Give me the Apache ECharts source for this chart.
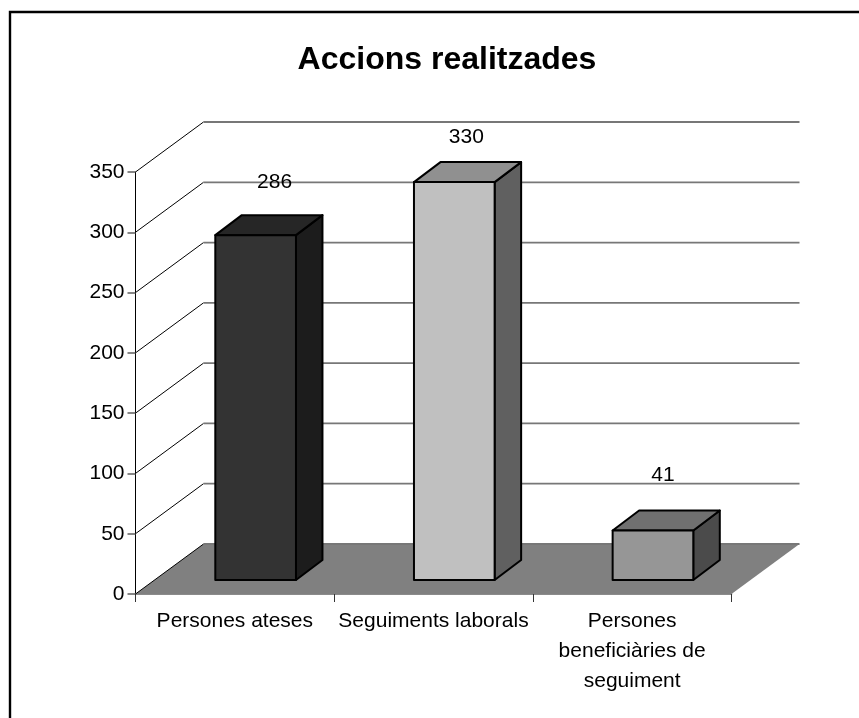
<!DOCTYPE html>
<html>
<head>
<meta charset="utf-8">
<style>
  html, body { margin:0; padding:0; background:#fff; }
  #chart { width:859px; height:718px; }
</style>
<script src="https://cdn.jsdelivr.net/npm/echarts@6/dist/echarts.min.js"></script>
</head>
<body>
<div id="chart"></div>
<script>
const categories = ['Persones ateses', 'Seguiments laborals', 'Persones\nbeneficiàries de\nseguiment'];
const values = [286, 330, 41];
const valueTicks = [0, 50, 100, 150, 200, 250, 300, 350];

const fontName = '"Liberation Sans", Arial, sans-serif';
// front, top, side
const barShades = [
    ['#333333', '#262626', '#1c1c1c'],
    ['#c0c0c0', '#909090', '#606060'],
    ['#969696', '#707070', '#4b4b4b']
];
// the data labels do not sit at the same place over each bar in the original
const labelShift = [[19, -52.5], [12, -45], [10, -55]];

const wallX = 68, wallY = 50;
const barInX = 20.8, barInY = 14;
const barDepthX = 26.5, barDepthY = 20;
const barWidthRatio = 0.406;

function renderFloor(params, api) {
    const box = params.coordSys;
    const y0 = api.coord([0, 0])[1];
    return {
        type:'polygon',
        shape:{ points:[
            [box.x, y0],
            [box.x + box.width, y0],
            [box.x + box.width + wallX, y0 - wallY],
            [box.x + wallX, y0 - wallY]
        ]},
        style:{ fill:'#808080' }
    };
}

function renderWall(params, api) {
    const box = params.coordSys;
    const y = api.coord([0, api.value(1)])[1];
    return {
        type:'group',
        children:[
            {
                type:'line',
                shape:{ x1:box.x, y1:y, x2:box.x + wallX, y2:y - wallY },
                style:{ stroke:'#000', lineWidth:1 }
            },
            {
                type:'line',
                shape:{ x1:box.x + wallX, y1:y - wallY, x2:box.x + box.width + wallX, y2:y - wallY },
                style:{ stroke:'#777', lineWidth:1.8 }
            }
        ]
    };
}

function renderBar(params, api) {
    const i = params.dataIndex;
    const top = api.coord([api.value(0), api.value(1)]);
    const bottom = api.coord([api.value(0), 0]);
    const w = api.size([1, 0])[0] * barWidthRatio;
    const x1 = top[0] + barInX - w / 2;
    const x2 = x1 + w;
    const yt = top[1] - barInY;
    const yb = bottom[1] - barInY;
    const line = { stroke:'#000', lineWidth:2, lineJoin:'round' };
    return {
        type:'group',
        children:[
            {
                type:'polygon',
                shape:{ points:[[x2, yt], [x2 + barDepthX, yt - barDepthY], [x2 + barDepthX, yb - barDepthY], [x2, yb]] },
                style:Object.assign({ fill:barShades[i][2] }, line)
            },
            {
                type:'polygon',
                shape:{ points:[[x1, yt], [x1 + barDepthX, yt - barDepthY], [x2 + barDepthX, yt - barDepthY], [x2, yt]] },
                style:Object.assign({ fill:barShades[i][1] }, line)
            },
            {
                type:'rect',
                shape:{ x:x1, y:yt, width:w, height:yb - yt },
                style:Object.assign({ fill:barShades[i][0] }, line)
            },
            {
                type:'text',
                style:{
                    x:(x1 + x2) / 2 + labelShift[i][0],
                    y:yt + labelShift[i][1],
                    text:String(values[i]),
                    align:'center',
                    verticalAlign:'middle',
                    fill:'#000',
                    font:'21px ' + fontName
                }
            }
        ]
    };
}

const myChart = echarts.init(document.getElementById('chart'), null, { renderer:'canvas' });
myChart.setOption({
    animation:false,
    backgroundColor:'#fff',
    title:{
        text:'Accions realitzades',
        left:442,
        top:39,
        textAlign:'center',
        textStyle:{ fontFamily:fontName, fontSize:32, fontWeight:'bold', color:'#000' }
    },
    grid:{ left:135.5, right:127.5, top:172, bottom:124 },
    xAxis:{
        type:'category',
        data:categories,
        axisLine:{ lineStyle:{ color:'#666', width:1.6 } },
        axisTick:{ show:true, length:8, alignWithLabel:false, lineStyle:{ color:'#333', width:1 } },
        axisLabel:{
            interval:0,
            margin:12,
            color:'#000',
            fontFamily:fontName,
            fontSize:21,
            lineHeight:30
        },
        splitLine:{ show:false }
    },
    yAxis:{
        type:'value',
        min:0,
        max:350,
        interval:50,
        axisLine:{ show:true, lineStyle:{ color:'#000', width:1 } },
        axisTick:{ show:true, length:8, lineStyle:{ color:'#666', width:1.6 } },
        axisLabel:{ margin:11, color:'#000', fontFamily:fontName, fontSize:21 },
        splitLine:{ show:false }
    },
    series:[
        {
            type:'custom',
            name:'floor',
            renderItem:renderFloor,
            clip:false,
            silent:true,
            z:1,
            data:[[0, 0]]
        },
        {
            type:'custom',
            name:'wall',
            renderItem:renderWall,
            clip:false,
            silent:true,
            z:2,
            encode:{ x:0, y:1 },
            data:valueTicks.map(v=>[0, v])
        },
        {
            type:'custom',
            name:'Accions',
            renderItem:renderBar,
            clip:false,
            z:3,
            encode:{ x:0, y:1 },
            data:values.map((v, i)=>[i, v])
        }
    ],
    graphic:[
        {
            type:'polyline',
            shape:{ points:[[10, 730], [10, 12], [870, 12]] },
            style:{ stroke:'#000', lineWidth:2.4, fill:null }
        }
    ]
});
</script>
</body>
</html>
